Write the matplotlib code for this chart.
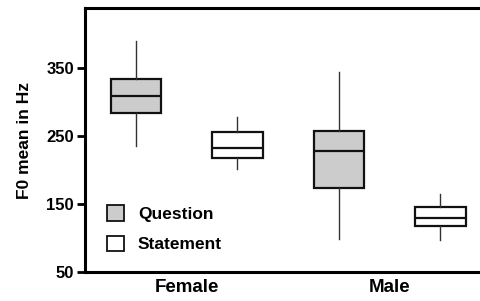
import matplotlib.pyplot as plt
from matplotlib.patches import Patch

# DATA (F0 mean in Hz)
GROUPS = ['Female', 'Male']
CONDITIONS = ['Question', 'Statement']
WHIS_LO = [235, 201, 99, 97]
Q1 = [284, 218, 174, 117]
MEDIAN = [309, 233, 228, 130]
Q3 = [334, 256, 257, 145]
WHIS_HI = [390, 278, 344, 164]

# VISUAL PARAMETERS
FILL_Q = '#cccccc'
FILL_S = '#ffffff'
EDGE = '#111111'
POSITIONS = [1, 2, 3, 4]
FONT = 'Liberation Sans'

plt.rcParams['font.family'] = [FONT, 'DejaVu Sans']
plt.rcParams['font.weight'] = 'bold'

fig = plt.figure(figsize=(4.81, 3.01), dpi=100)
ax = fig.add_axes([0.1767, 0.0963, 0.8233, 0.877])

stats = []
for i in range(len(MEDIAN)):
    stats.append({'med': MEDIAN[i], 'q1': Q1[i], 'q3': Q3[i],
                  'whislo': WHIS_LO[i], 'whishi': WHIS_HI[i], 'fliers': []})

bp = ax.bxp(stats, positions=POSITIONS, widths=0.5, patch_artist=True,
            showcaps=False, showfliers=False,
            boxprops=dict(linewidth=1.6, edgecolor=EDGE),
            medianprops=dict(linewidth=1.6, color=EDGE),
            whiskerprops=dict(linewidth=1.0, color='#333333'))
for i, box in enumerate(bp['boxes']):
    box.set_facecolor(FILL_Q if i % 2 == 0 else FILL_S)

ax.set_xlim(0.497, 4.4)
ax.set_ylim(50, 438)
ax.set_yticks([50, 150, 250, 350])
ax.set_xticks([1.5, 3.5])
ax.set_xticklabels(GROUPS, fontsize=13.5, fontweight='bold')
ax.tick_params(axis='x', length=0, pad=5)
ax.tick_params(axis='y', length=6, width=2, labelsize=12, pad=2)
for lab in ax.get_yticklabels():
    lab.set_fontweight('bold')
ax.set_ylabel('F0 mean in Hz', fontsize=12.5, fontweight='bold', labelpad=10)

for s in ['left', 'top', 'bottom']:
    ax.spines[s].set_linewidth(2.2)
ax.spines['right'].set_visible(False)

handles = [Patch(facecolor=FILL_Q, edgecolor=EDGE, linewidth=1.3, label=CONDITIONS[0]),
           Patch(facecolor=FILL_S, edgecolor=EDGE, linewidth=1.3, label=CONDITIONS[1])]
ax.legend(handles=handles, loc='lower left', bbox_to_anchor=(0.015, 0.015),
          frameon=False, handlelength=1.0, handleheight=1.0, handletextpad=0.8,
          labelspacing=0.8, prop={'size': 12.5, 'weight': 'bold'})

plt.savefig('out.png', dpi=100)
